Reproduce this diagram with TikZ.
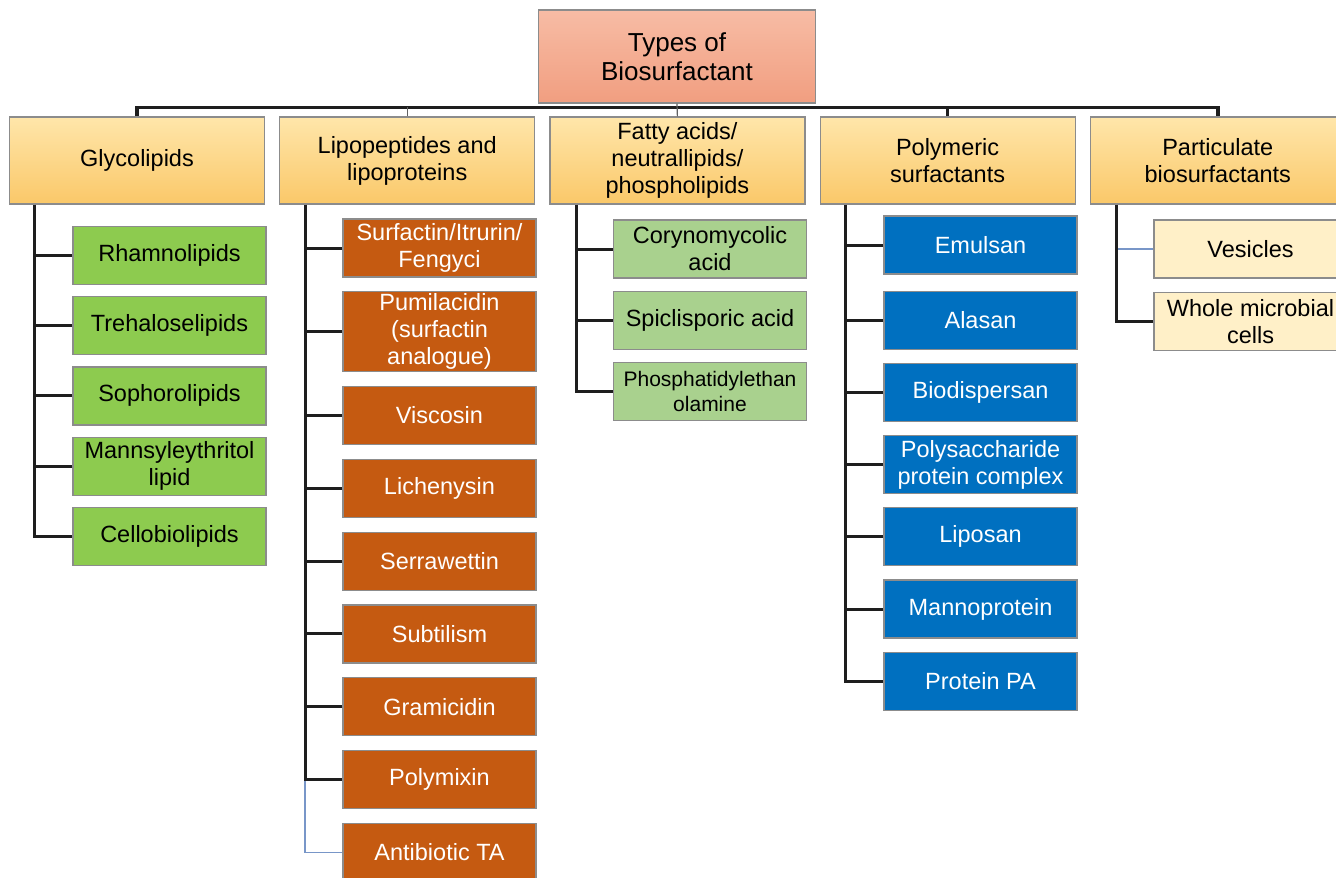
\documentclass[tikz,border=0pt]{standalone}
\usepackage{fontspec}
\setmainfont{Liberation Sans}
\usetikzlibrary{positioning}

\definecolor{titletop}{RGB}{247,188,165}
\definecolor{titlebot}{RGB}{241,158,128}
\definecolor{headtop}{RGB}{255,230,170}
\definecolor{headbot}{RGB}{250,200,105}
\definecolor{glygreen}{RGB}{141,203,79}
\definecolor{liporange}{RGB}{197,90,17}
\definecolor{fatgreen}{RGB}{169,209,142}
\definecolor{polyblue}{RGB}{0,112,192}
\definecolor{partcream}{RGB}{255,240,200}
\definecolor{boxline}{RGB}{140,140,140}
\definecolor{linedark}{RGB}{30,30,30}
\definecolor{lineblue}{RGB}{120,150,200}

\begin{document}
\begin{tikzpicture}[x=1pt, y=-1pt, node distance=13pt,
  every node/.style={font=\fontsize{23.5}{27}\selectfont, align=center, inner sep=2pt},
  box/.style={rectangle, draw=boxline, line width=1.2pt, minimum width=193pt, minimum height=58pt},
  titlebox/.style={box, minimum width=277pt, minimum height=93pt, top color=titletop, bottom color=titlebot, font=\fontsize{26}{29}\selectfont},
  head/.style={box, minimum width=255pt, minimum height=87pt, top color=headtop, bottom color=headbot},
  glyleaf/.style={box, fill=glygreen},
  lipleaf/.style={box, fill=liporange, text=white},
  fatleaf/.style={box, fill=fatgreen},
  polyleaf/.style={box, fill=polyblue, text=white},
  partleaf/.style={box, fill=partcream},
  bus/.style={line width=3.5pt, draw=linedark},
  branch/.style={line width=3pt, draw=linedark},
  thinline/.style={line width=1.2pt, draw=linedark!70},
  faint/.style={line width=1.4pt, draw=lineblue}]
\useasboundingbox (0,0) rectangle (1336,878);

% root and categories
\node[titlebox] (types) at (677,56.5) {Types of\\Biosurfactant};
\node[head] (glyco) at (137,160.5) {Glycolipids};
\node[head, right=14pt of glyco] (lipo) {Lipopeptides and\\lipoproteins};
\node[head, right=14pt of lipo] (fatty) {Fatty acids/\\neutrallipids/\\phospholipids};
\node[head, right=14pt of fatty] (poly) {Polymeric\\surfactants};
\node[head, right=14pt of poly] (part) {Particulate\\biosurfactants};

% glycolipids
\node[glyleaf] (rham) at (169.5,255.5) {Rhamnolipids};
\node[glyleaf, below=11pt of rham] (treh) {Trehaloselipids};
\node[glyleaf, below=11pt of treh] (soph) {Sophorolipids};
\node[glyleaf, below=11pt of soph] (mann) {Mannsyleythritol\\lipid};
\node[glyleaf, below=11pt of mann] (cello) {Cellobiolipids};

% lipopeptides
\node[lipleaf] (surf) at (439.5,248) {Surfactin/Itrurin/\\Fengyci};
\node[lipleaf, below=13.6pt of surf] (pumi) {Pumilacidin\\(surfactin\\analogue)};
\node[lipleaf, below=13.6pt of pumi] (visc) {Viscosin};
\node[lipleaf, below=13.6pt of visc] (lich) {Lichenysin};
\node[lipleaf, below=13.6pt of lich] (serr) {Serrawettin};
\node[lipleaf, below=13.6pt of serr] (subt) {Subtilism};
\node[lipleaf, below=13.6pt of subt] (gram) {Gramicidin};
\node[lipleaf, below=13.6pt of gram] (polym) {Polymixin};
\node[lipleaf, below=13.6pt of polym] (antib) {Antibiotic TA};

% fatty acids
\node[fatleaf] (cory) at (710,249) {Corynomycolic\\acid};
\node[fatleaf, below=12pt of cory] (spic) {Spiclisporic acid};
\node[fatleaf, below=12pt of spic, font=\fontsize{21}{25}\selectfont] (phos) {Phosphatidylethan\\olamine};

% polymeric
\node[polyleaf] (emul) at (980.5,245) {Emulsan};
\node[polyleaf, below=16pt of emul] (alas) {Alasan};
\node[polyleaf, below=of alas] (biod) {Biodispersan};
\node[polyleaf, below=of biod] (psac) {Polysaccharide\\protein complex};
\node[polyleaf, below=of psac] (lipos) {Liposan};
\node[polyleaf, below=of lipos] (manno) {Mannoprotein};
\node[polyleaf, below=of manno] (prot) {Protein PA};

% particulate
\node[partleaf] (vesic) at (1250.5,249) {Vesicles};
\node[partleaf, below=of vesic] (whole) {Whole microbial\\cells};

% bus
\draw[bus] (glyco.north) |- ([yshift=9pt]part.north) -- (part.north);
\draw[thinline] (types.south) -- (fatty.north);
\draw[thinline] (lipo.north) -- ++(0,-9);
\draw[branch] (poly.north) -- ++(0,-9);

% trunks
\coordinate (gtr) at ([xshift=26pt]glyco.south west);
\coordinate (ltr) at ([xshift=26pt]lipo.south west);
\coordinate (ftr) at ([xshift=27pt]fatty.south west);
\coordinate (ptr) at ([xshift=26pt]poly.south west);
\coordinate (qtr) at ([xshift=27pt]part.south west);

\draw[branch] (gtr) |- (cello.west);
\draw[branch] (rham.west) -- (rham.west -| gtr);
\draw[branch] (treh.west) -- (treh.west -| gtr);
\draw[branch] (soph.west) -- (soph.west -| gtr);
\draw[branch] (mann.west) -- (mann.west -| gtr);

\draw[faint] (polym.west -| ltr) |- (antib.west);
\draw[branch] (ltr) |- (polym.west);
\draw[branch] (surf.west) -- (surf.west -| ltr);
\draw[branch] (pumi.west) -- (pumi.west -| ltr);
\draw[branch] (visc.west) -- (visc.west -| ltr);
\draw[branch] (lich.west) -- (lich.west -| ltr);
\draw[branch] (serr.west) -- (serr.west -| ltr);
\draw[branch] (subt.west) -- (subt.west -| ltr);
\draw[branch] (gram.west) -- (gram.west -| ltr);

\draw[branch] (ftr) |- (phos.west);
\draw[branch] (cory.west) -- (cory.west -| ftr);
\draw[branch] (spic.west) -- (spic.west -| ftr);

\draw[branch] (ptr) |- (prot.west);
\draw[branch] (emul.west) -- (emul.west -| ptr);
\draw[branch] (alas.west) -- (alas.west -| ptr);
\draw[branch] (biod.west) -- (biod.west -| ptr);
\draw[branch] (psac.west) -- (psac.west -| ptr);
\draw[branch] (lipos.west) -- (lipos.west -| ptr);
\draw[branch] (manno.west) -- (manno.west -| ptr);

\draw[faint] (vesic.west) -- (vesic.west -| qtr);
\draw[branch] (qtr) |- (whole.west);
\end{tikzpicture}
\end{document}
